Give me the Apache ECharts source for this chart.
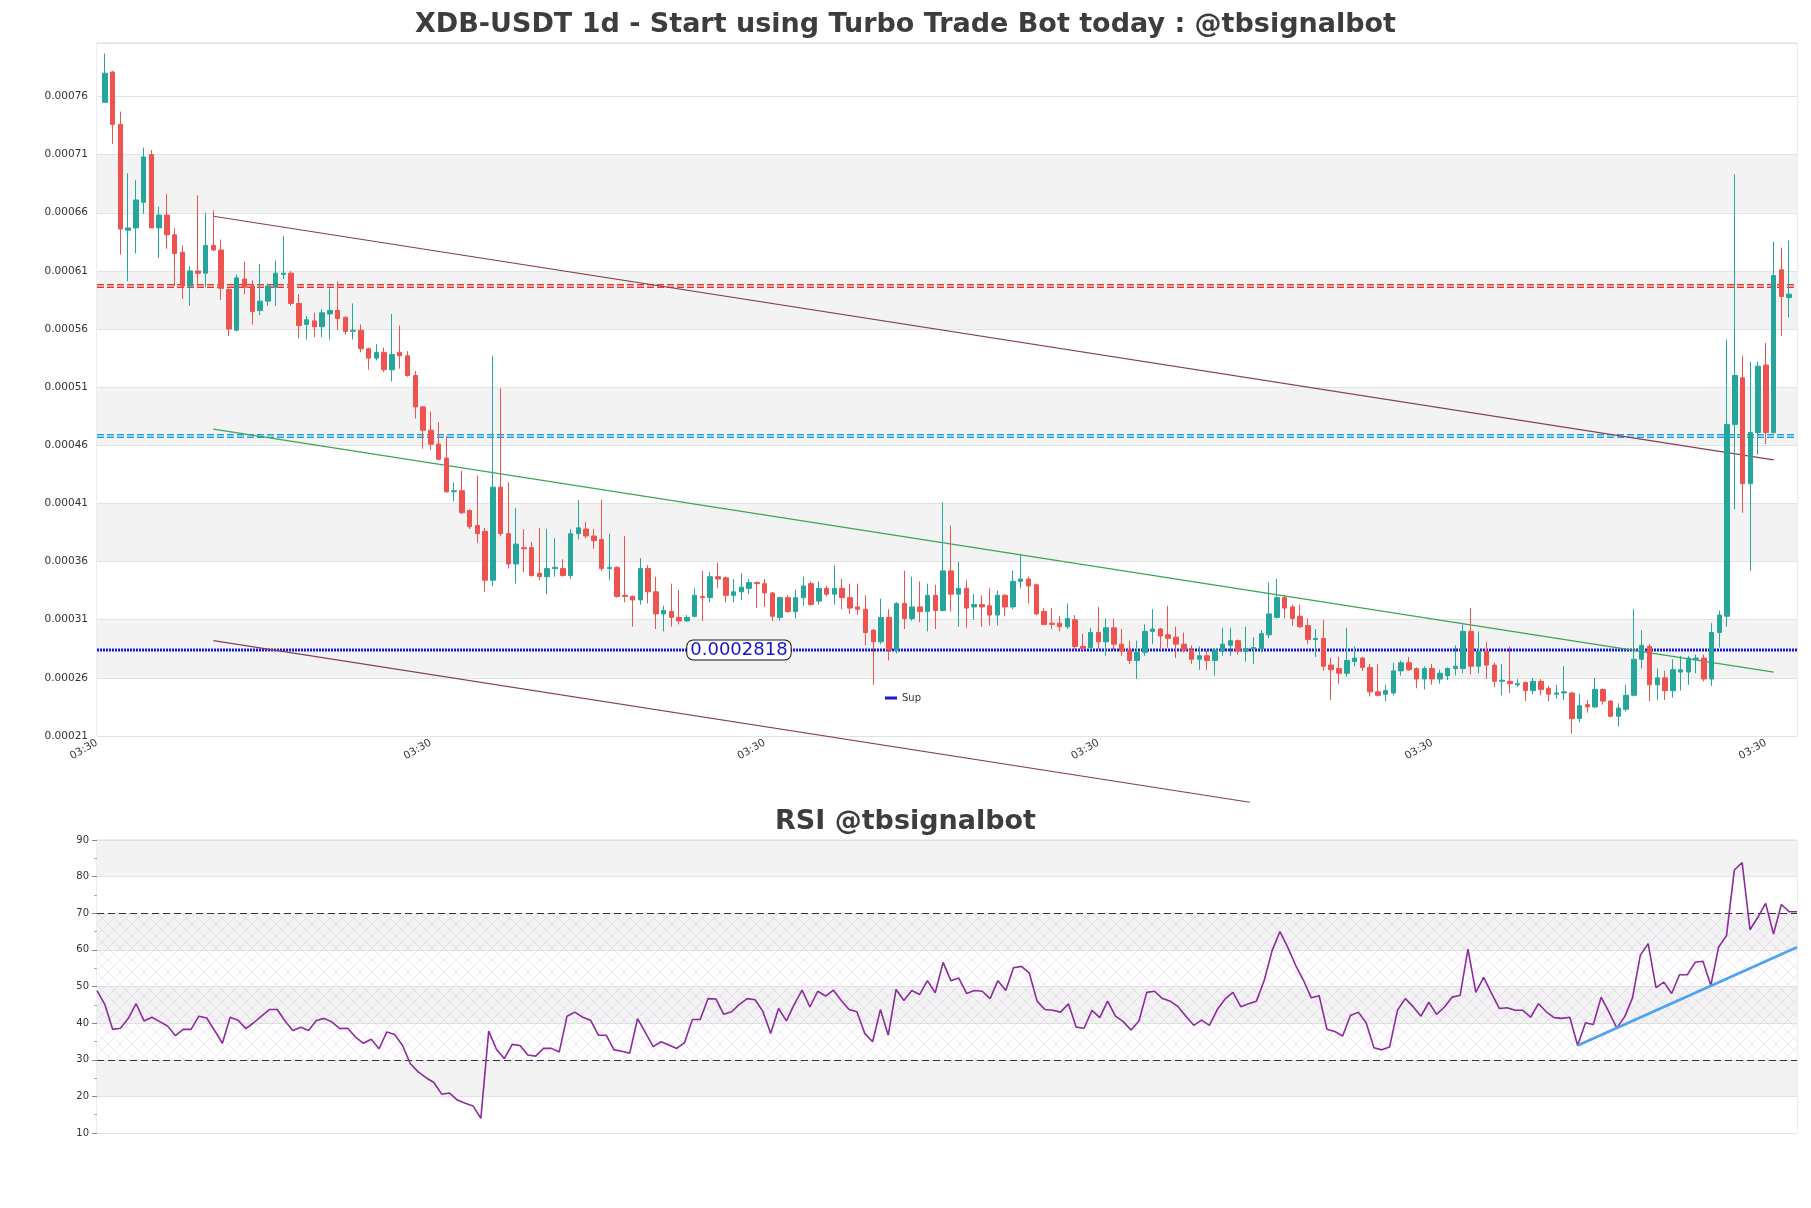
<!DOCTYPE html>
<html>
<head>
<meta charset="utf-8">
<script src="https://cdn.jsdelivr.net/npm/echarts@6/dist/echarts.min.js"></script>
<style>
html,body{margin:0;padding:0;background:#fff;}
#chart{width:1811px;height:1208px;}
</style>
</head>
<body>
<div id="chart"></div>
<script>
// ---------- data (one entry per daily candle) ----------
const opens = [
0.000755,0.000781,0.000736,0.000645,0.000647,0.000669,0.000710,0.000647,0.000658,0.000641,
0.000626,0.000597,0.000610,0.000608,0.000632,0.000628,0.000594,0.000559,0.000603,0.000597,
0.000576,0.000584,0.000596,0.000607,0.000608,0.000582,0.000564,0.000567,0.000562,0.000573,
0.000576,0.000570,0.000558,0.000559,0.000543,0.000535,0.000540,0.000525,0.000540,0.000537,
0.000520,0.000493,0.000473,0.000461,0.000449,0.000420,0.000421,0.000404,0.000391,0.000386,
0.000344,0.000424,0.000384,0.000358,0.000372,0.000372,0.000350,0.000347,0.000354,0.000354,
0.000348,0.000384,0.000388,0.000382,0.000379,0.000354,0.000355,0.000331,0.000330,0.000327,
0.000354,0.000334,0.000315,0.000317,0.000312,0.000309,0.000313,0.000330,0.000329,0.000347,
0.000346,0.000331,0.000334,0.000337,0.000342,0.000341,0.000333,0.000312,0.000329,0.000317,
0.000329,0.000341,0.000326,0.000337,0.000332,0.000337,0.000329,0.000321,0.000319,0.000301,
0.000291,0.000312,0.000284,0.000324,0.000311,0.000321,0.000317,0.000331,0.000318,0.000352,
0.000332,0.000337,0.000321,0.000323,0.000322,0.000314,0.000331,0.000321,0.000343,0.000345,
0.000340,0.000317,0.000307,0.000307,0.000304,0.000310,0.000287,0.000286,0.000299,0.000291,
0.000303,0.000289,0.000284,0.000275,0.000282,0.000300,0.000302,0.000297,0.000295,0.000289,
0.000284,0.000276,0.000279,0.000275,0.000283,0.000288,0.000292,0.000283,0.000285,0.000285,
0.000297,0.000312,0.000329,0.000321,0.000313,0.000305,0.000293,0.000294,0.000271,0.000268,
0.000264,0.000274,0.000277,0.000269,0.000248,0.000246,0.000247,0.000266,0.000273,0.000268,
0.000259,0.000268,0.000259,0.000262,0.000268,0.000268,0.000300,0.000270,0.000283,0.000271,
0.000257,0.000257,0.000254,0.000256,0.000249,0.000257,0.000251,0.000246,0.000247,0.000247,
0.000225,0.000237,0.000235,0.000250,0.000240,0.000227,0.000233,0.000245,0.000276,0.000287,
0.000254,0.000260,0.000249,0.000265,0.000265,0.000276,0.000277,0.000259,0.000299,0.000313,
0.000478,0.000518,0.000427,0.000471,0.000529,0.000471,0.000611,0.000587
];
const highs = [
0.000797,0.000782,0.000747,0.000694,0.000688,0.000716,0.000714,0.000665,0.000676,0.000647,
0.000632,0.000614,0.000675,0.000660,0.000662,0.000637,0.000595,0.000607,0.000618,0.000602,
0.000616,0.000599,0.000619,0.000640,0.000610,0.000590,0.000571,0.000574,0.000577,0.000595,
0.000601,0.000571,0.000582,0.000564,0.000544,0.000547,0.000544,0.000573,0.000563,0.000541,
0.000524,0.000494,0.000489,0.000480,0.000468,0.000428,0.000438,0.000405,0.000434,0.000389,
0.000537,0.000509,0.000428,0.000406,0.000388,0.000377,0.000389,0.000388,0.000380,0.000362,
0.000388,0.000413,0.000394,0.000388,0.000413,0.000384,0.000356,0.000382,0.000331,0.000363,
0.000357,0.000347,0.000322,0.000341,0.000336,0.000314,0.000337,0.000352,0.000351,0.000359,
0.000347,0.000345,0.000350,0.000345,0.000343,0.000345,0.000334,0.000330,0.000331,0.000336,
0.000347,0.000343,0.000343,0.000339,0.000357,0.000345,0.000341,0.000341,0.000331,0.000302,
0.000328,0.000319,0.000325,0.000352,0.000347,0.000343,0.000341,0.000340,0.000411,0.000391,
0.000360,0.000344,0.000332,0.000331,0.000337,0.000335,0.000332,0.000352,0.000366,0.000347,
0.000341,0.000320,0.000320,0.000313,0.000324,0.000314,0.000298,0.000303,0.000321,0.000311,
0.000311,0.000302,0.000292,0.000292,0.000306,0.000319,0.000303,0.000322,0.000304,0.000299,
0.000288,0.000287,0.000283,0.000285,0.000303,0.000303,0.000293,0.000304,0.000295,0.000301,
0.000342,0.000345,0.000331,0.000323,0.000323,0.000311,0.000302,0.000310,0.000277,0.000278,
0.000303,0.000287,0.000278,0.000272,0.000272,0.000254,0.000273,0.000275,0.000278,0.000269,
0.000270,0.000272,0.000267,0.000269,0.000288,0.000306,0.000320,0.000300,0.000291,0.000273,
0.000272,0.000287,0.000259,0.000257,0.000260,0.000259,0.000253,0.000254,0.000270,0.000248,
0.000246,0.000241,0.000260,0.000251,0.000241,0.000238,0.000254,0.000319,0.000301,0.000289,
0.000268,0.000266,0.000276,0.000279,0.000279,0.000280,0.000280,0.000307,0.000318,0.000551,
0.000693,0.000537,0.000532,0.000532,0.000548,0.000635,0.000630,0.000636
];
const lows = [
0.000755,0.000719,0.000624,0.000601,0.000625,0.000659,0.000647,0.000621,0.000629,0.000597,
0.000586,0.000580,0.000595,0.000596,0.000627,0.000585,0.000554,0.000558,0.000590,0.000564,
0.000572,0.000580,0.000580,0.000603,0.000580,0.000552,0.000551,0.000553,0.000553,0.000551,
0.000559,0.000555,0.000551,0.000540,0.000525,0.000533,0.000523,0.000515,0.000526,0.000519,
0.000483,0.000457,0.000456,0.000447,0.000419,0.000412,0.000401,0.000388,0.000376,0.000334,
0.000339,0.000382,0.000354,0.000341,0.000351,0.000347,0.000344,0.000332,0.000347,0.000347,
0.000345,0.000379,0.000380,0.000371,0.000352,0.000344,0.000329,0.000325,0.000304,0.000323,
0.000324,0.000302,0.000300,0.000304,0.000306,0.000308,0.000312,0.000309,0.000325,0.000337,
0.000325,0.000325,0.000327,0.000332,0.000320,0.000321,0.000309,0.000309,0.000316,0.000311,
0.000322,0.000322,0.000323,0.000330,0.000323,0.000319,0.000315,0.000314,0.000288,0.000254,
0.000289,0.000275,0.000281,0.000302,0.000309,0.000308,0.000300,0.000302,0.000317,0.000317,
0.000304,0.000303,0.000310,0.000304,0.000305,0.000305,0.000313,0.000319,0.000337,0.000324,
0.000314,0.000305,0.000302,0.000300,0.000302,0.000285,0.000284,0.000284,0.000285,0.000279,
0.000284,0.000279,0.000272,0.000259,0.000279,0.000289,0.000284,0.000286,0.000277,0.000282,
0.000272,0.000267,0.000267,0.000262,0.000279,0.000279,0.000280,0.000274,0.000272,0.000282,
0.000294,0.000311,0.000311,0.000305,0.000303,0.000289,0.000278,0.000266,0.000241,0.000255,
0.000261,0.000270,0.000266,0.000244,0.000244,0.000240,0.000245,0.000262,0.000266,0.000251,
0.000250,0.000254,0.000255,0.000258,0.000262,0.000264,0.000263,0.000264,0.000259,0.000252,
0.000245,0.000247,0.000252,0.000240,0.000246,0.000245,0.000240,0.000242,0.000241,0.000212,
0.000222,0.000230,0.000234,0.000237,0.000226,0.000218,0.000231,0.000244,0.000268,0.000240,
0.000241,0.000241,0.000243,0.000249,0.000254,0.000264,0.000257,0.000253,0.000286,0.000304,
0.000405,0.000402,0.000352,0.000452,0.000461,0.000470,0.000554,0.000570
];
const closes = [
0.000780,0.000736,0.000646,0.000647,0.000671,0.000708,0.000647,0.000658,0.000641,0.000625,
0.000597,0.000610,0.000608,0.000632,0.000628,0.000595,0.000560,0.000604,0.000596,0.000575,
0.000584,0.000597,0.000608,0.000608,0.000582,0.000563,0.000568,0.000562,0.000574,0.000576,
0.000569,0.000558,0.000559,0.000543,0.000535,0.000540,0.000525,0.000538,0.000537,0.000520,
0.000493,0.000473,0.000461,0.000448,0.000420,0.000421,0.000402,0.000390,0.000384,0.000344,
0.000424,0.000384,0.000358,0.000375,0.000371,0.000348,0.000347,0.000354,0.000355,0.000348,
0.000384,0.000389,0.000382,0.000378,0.000354,0.000355,0.000330,0.000330,0.000327,0.000354,
0.000334,0.000315,0.000318,0.000312,0.000309,0.000312,0.000331,0.000329,0.000347,0.000345,
0.000331,0.000334,0.000338,0.000342,0.000341,0.000333,0.000313,0.000329,0.000317,0.000329,
0.000339,0.000323,0.000337,0.000332,0.000337,0.000329,0.000320,0.000319,0.000299,0.000291,
0.000312,0.000284,0.000324,0.000311,0.000321,0.000317,0.000331,0.000318,0.000352,0.000332,
0.000337,0.000320,0.000323,0.000321,0.000314,0.000331,0.000321,0.000343,0.000345,0.000339,
0.000315,0.000306,0.000306,0.000304,0.000311,0.000287,0.000285,0.000299,0.000291,0.000303,
0.000289,0.000283,0.000275,0.000282,0.000300,0.000302,0.000296,0.000294,0.000289,0.000284,
0.000276,0.000279,0.000275,0.000284,0.000289,0.000292,0.000283,0.000285,0.000286,0.000298,
0.000315,0.000329,0.000320,0.000311,0.000304,0.000293,0.000294,0.000270,0.000267,0.000264,
0.000275,0.000277,0.000269,0.000248,0.000245,0.000249,0.000266,0.000273,0.000267,0.000259,
0.000268,0.000259,0.000264,0.000268,0.000270,0.000300,0.000270,0.000283,0.000271,0.000257,
0.000258,0.000255,0.000255,0.000249,0.000257,0.000250,0.000246,0.000247,0.000248,0.000225,
0.000236,0.000235,0.000250,0.000240,0.000227,0.000234,0.000245,0.000276,0.000288,0.000254,
0.000260,0.000249,0.000267,0.000267,0.000277,0.000277,0.000259,0.000299,0.000314,0.000478,
0.000520,0.000427,0.000471,0.000528,0.000471,0.000606,0.000588,0.000590
];
const rsi = [
48.9,45.1,38.3,38.6,41.3,45.3,40.6,41.6,40.4,39.2,
36.6,38.3,38.3,41.9,41.4,38.0,34.5,41.6,40.8,38.5,
40.1,41.9,43.7,43.7,40.6,38.0,38.9,38.0,40.7,41.3,
40.3,38.5,38.6,36.2,34.5,35.6,33.0,37.6,36.9,33.9,
28.9,26.7,25.1,23.8,20.6,20.9,19.0,18.1,17.4,14.0,
37.8,32.8,30.3,34.2,33.9,31.3,31.0,33.1,33.1,32.1,
41.9,43.0,41.6,40.8,36.7,36.7,32.7,32.3,31.8,41.2,
37.4,33.6,34.9,34.0,33.1,34.7,41.0,41.0,46.7,46.6,
42.4,43.1,45.1,46.7,46.4,43.2,37.2,44.0,40.6,45.1,
49.0,44.4,48.7,47.4,49.0,46.2,43.7,43.1,37.2,34.9,
43.7,36.7,49.2,46.2,48.9,47.8,51.6,48.3,56.6,51.6,
52.3,48.1,48.9,48.7,46.7,51.6,48.9,55.1,55.5,53.7,
46.0,43.7,43.5,43.0,45.3,38.9,38.6,43.5,41.5,46.0,
41.9,40.4,38.1,40.6,48.4,48.7,46.7,46.0,44.5,41.9,
39.4,40.8,39.4,43.7,46.6,48.4,44.5,45.3,46.0,51.7,
59.8,65.0,60.7,55.8,51.7,46.9,47.5,38.3,37.7,36.5,
42.1,43.0,40.1,33.3,32.7,33.5,43.5,46.7,44.5,41.9,
45.7,42.4,44.4,47.1,47.6,60.2,48.4,52.5,48.2,44.0,
44.2,43.5,43.5,41.6,45.3,43.1,41.5,41.3,41.6,33.9,
40.1,39.6,47.1,43.0,38.7,41.7,46.9,58.5,61.7,49.7,
51.2,48.1,53.2,53.2,56.6,56.9,50.3,60.8,63.9,81.8,
83.8,65.5,68.9,72.7,64.3,72.4,70.4,70.4
];
// horizontal levels
const resistanceLevel = 0.000597;
const midLevel = 0.000468;
const supLevel = 0.000284;
const supLabel = '0.0002818';
const supLabelAt = 81.7;           // candle index where the value box sits
// sloped channel lines: [candle index, price]
const channelTop = [[14, 0.000657], [215, 0.0004475]];
const channelMid = [[14, 0.000474], [215, 0.000265]];
const channelLow = [[14, 0.000292], [147.5, 0.000153]];
// RSI trend line: [bar index, rsi]
const rsiTrend = [[189, 33.9], [217, 60.7]];
const rsiLevels = [30, 70];
// x-axis tick labels (candle index of each tick)
const xTickIdx = [-1, 42, 85, 128, 171, 214];
const xTickText = '03:30';

// ---------- chart ----------
const N = closes.length;
const candleData = opens.map((o, i) => [i, o, closes[i], lows[i], highs[i]]);
const rsiCats = rsi.map((_, i) => String(i));

const hatch = document.createElement('canvas');
hatch.width = 12; hatch.height = 12;
const hc = hatch.getContext('2d');
hc.strokeStyle = 'rgba(190,160,210,0.30)';
hc.lineWidth = 0.8;
hc.beginPath();
hc.moveTo(0, 0); hc.lineTo(12, 12);
hc.moveTo(12, 0); hc.lineTo(0, 12);
hc.stroke();

const FONT = 'DejaVu Sans';
const GRAY = '#f3f3f3';

function hline(name, v, color, width, dash, z) {
  return {
    name: name, type: 'line', xAxisIndex: 0, yAxisIndex: 0,
    data: [[-1, v], [N, v]], symbol: 'none', silent: true, z: z || 3,
    color: color,
    lineStyle: {color: color, width: width, type: dash}
  };
}

const chart = echarts.init(document.getElementById('chart'), null, {renderer: 'canvas'});
chart.setOption({
  animation: false,
  backgroundColor: '#ffffff',
  textStyle: {fontFamily: FONT},
  title: [
    {text: 'XDB-USDT 1d - Start using Turbo Trade Bot today : @tbsignalbot', left: 'center', top: 6,
     textStyle: {fontSize: 27, fontWeight: 'bold', color: '#3d3d3d', fontFamily: FONT}},
    {text: 'RSI @tbsignalbot', left: 'center', top: 803,
     textStyle: {fontSize: 27, fontWeight: 'bold', color: '#3d3d3d', fontFamily: FONT}}
  ],
  legend: {
    data: [{name: 'Sup', icon: 'rect'}], left: 880, top: 688, itemWidth: 12, itemHeight: 3,
    selectedMode: false, textStyle: {fontSize: 10, color: '#333', fontFamily: FONT}
  },
  grid: [
    {left: 97, right: 14, top: 43, height: 693, show: true, borderColor: '#dadada', borderWidth: 1},
    {left: 97, right: 14, top: 840, height: 293, show: true, borderColor: '#dadada', borderWidth: 1}
  ],
  xAxis: [
    {type: 'value', gridIndex: 0, min: -1, max: N,
     axisLine: {show: false}, axisTick: {show: false}, splitLine: {show: false},
     axisLabel: {customValues: xTickIdx, formatter: () => xTickText, rotate: 30, fontSize: 10.5,
                 color: '#333', margin: 6, fontFamily: FONT}},
    {type: 'category', gridIndex: 1, data: rsiCats, boundaryGap: false,
     axisLine: {show: false}, axisTick: {show: false}, axisLabel: {show: false}, splitLine: {show: false}}
  ],
  yAxis: [
    {type: 'value', gridIndex: 0, min: 0.00021, max: 0.000806, interval: 0.00005,
     axisLine: {show: false}, axisTick: {show: false},
     axisLabel: {fontSize: 10.5, color: '#333', margin: 9, fontFamily: FONT,
                 formatter: v => (v > 0.0008 ? '' : v.toFixed(5))},
     splitLine: {lineStyle: {color: '#e2e2e2', width: 1}},
     splitArea: {show: true, areaStyle: {color: ['#ffffff', GRAY, '#ffffff', GRAY, '#ffffff', GRAY,
                                                  '#ffffff', GRAY, '#ffffff', GRAY, '#ffffff', '#ffffff']}}},
    {type: 'value', gridIndex: 1, min: 10, max: 90, interval: 10,
     axisLine: {show: false},
     axisTick: {show: true, length: 5, lineStyle: {color: '#888'}},
     minorTick: {show: true, splitNumber: 2, length: 3, lineStyle: {color: '#aaa'}},
     axisLabel: {fontSize: 10, color: '#333', margin: 8, fontFamily: FONT},
     splitLine: {lineStyle: {color: '#e2e2e2', width: 1}},
     splitArea: {show: true, areaStyle: {color: ['#ffffff', GRAY]}}}
  ],
  series: [
    {
      name: 'price', type: 'candlestick', xAxisIndex: 0, yAxisIndex: 0,
      data: candleData, encode: {x: 0, y: [1, 2, 3, 4]},
      barWidth: 5, z: 5,
      itemStyle: {color: '#26a69a', color0: '#ef5350', borderColor: '#26a69a', borderColor0: '#ef5350', borderWidth: 1}
    },
    hline('res', resistanceLevel, '#e53935', 4, [7, 3], 3),
    hline('res2', resistanceLevel, '#ffffff', 1, 'solid', 4),
    hline('mid', midLevel, '#1e9fe0', 4, [7, 3], 3),
    hline('mid2', midLevel, '#ffffff', 1, 'solid', 4),
    Object.assign(hline('Sup', supLevel, '#1a1ad6', 3, [2, 1], 3), {
      silent: false,
      markPoint: {
        symbol: 'rect', symbolSize: 1, itemStyle: {color: 'rgba(0,0,0,0)'},
        data: [{coord: [supLabelAt, supLevel]}],
        label: {show: true, position: 'inside', formatter: supLabel, color: '#1515d0', fontSize: 18,
                fontFamily: FONT, backgroundColor: '#ffffff', borderColor: '#111', borderWidth: 1,
                borderRadius: 6, padding: [1, 3, 0, 3]}
      }
    }),
    {name: 'ch1', type: 'line', xAxisIndex: 0, yAxisIndex: 0, data: channelTop, symbol: 'none', silent: true,
     lineStyle: {color: '#86404f', width: 1.2}, z: 4},
    {name: 'ch2', type: 'line', xAxisIndex: 0, yAxisIndex: 0, data: channelMid, symbol: 'none', silent: true,
     lineStyle: {color: '#3aa655', width: 1.2}, z: 4},
    {name: 'ch3', type: 'line', xAxisIndex: 0, yAxisIndex: 0, data: channelLow, symbol: 'none', silent: true,
     clip: false, lineStyle: {color: '#86404f', width: 1.2}, z: 4},
    {
      name: 'RSI', type: 'line', xAxisIndex: 1, yAxisIndex: 1, data: rsi, symbol: 'none', silent: true,
      lineStyle: {color: '#8e2a9e', width: 1.6}, z: 5,
      markLine: {symbol: 'none', silent: true, label: {show: false},
                 lineStyle: {type: [7, 4], color: '#333', width: 1.2},
                 data: rsiLevels.map(v => ({yAxis: v}))},
      markArea: {silent: true, itemStyle: {color: {image: hatch, repeat: 'repeat'}},
                 data: [[{yAxis: rsiLevels[0]}, {yAxis: rsiLevels[1]}]]}
    },
    {name: 'rsiTrend', type: 'line', xAxisIndex: 1, yAxisIndex: 1,
     data: rsiTrend.map(p => [String(p[0]), p[1]]), symbol: 'none', silent: true,
     lineStyle: {color: '#4ca3ee', width: 2.6}, z: 6}
  ]
});
</script>
</body>
</html>
